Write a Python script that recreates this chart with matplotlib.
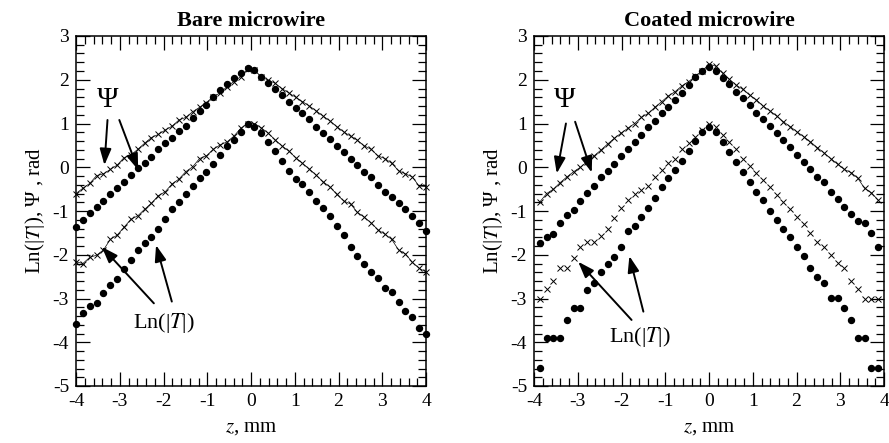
import matplotlib
matplotlib.use("Agg")
import matplotlib.pyplot as plt
import numpy as np
from matplotlib.ticker import MultipleLocator

plt.rcParams['font.family'] = ['Liberation Serif', 'DejaVu Serif']
plt.rcParams['mathtext.fontset'] = 'stix'
plt.rcParams['axes.unicode_minus'] = False

# z positions (mm) of the samples
z_bare = [-4.000, -3.843, -3.686, -3.529, -3.373, -3.216, -3.059, -2.902, -2.745, -2.588,
          -2.431, -2.275, -2.118, -1.961, -1.804, -1.647, -1.490, -1.333, -1.176, -1.020,
          -0.863, -0.706, -0.549, -0.392, -0.235, -0.078, 0.078, 0.235, 0.392, 0.549,
          0.706, 0.863, 1.020, 1.176, 1.333, 1.490, 1.647, 1.804, 1.961, 2.118,
          2.275, 2.431, 2.588, 2.745, 2.902, 3.059, 3.216, 3.373, 3.529, 3.686,
          3.843, 4.000]
z_coat = [-3.865, -3.710, -3.556, -3.401, -3.247, -3.092, -2.938, -2.783, -2.628, -2.474,
          -2.319, -2.165, -2.010, -1.856, -1.701, -1.546, -1.392, -1.237, -1.083, -0.928,
          -0.773, -0.619, -0.464, -0.310, -0.155, 0.000, 0.155, 0.310, 0.464, 0.619,
          0.773, 0.928, 1.083, 1.237, 1.392, 1.546, 1.701, 1.856, 2.010, 2.165,
          2.319, 2.474, 2.628, 2.783, 2.938, 3.092, 3.247, 3.401, 3.556, 3.710,
          3.865]

# Bare microwire
bare_psi_x = [-0.60, -0.48, -0.37, -0.19, -0.15, -0.05, 0.05, 0.22, 0.28, 0.41,
              0.55, 0.68, 0.75, 0.85, 0.94, 1.08, 1.14, 1.27, 1.37, 1.48,
              1.61, 1.70, 1.84, 1.96, 2.07, 2.24, 2.22, 2.07, 1.99, 1.92,
              1.80, 1.70, 1.60, 1.50, 1.40, 1.29, 1.17, 1.06, 0.93, 0.81,
              0.71, 0.62, 0.49, 0.41, 0.26, 0.20, 0.09, -0.08, -0.15, -0.22,
              -0.43, -0.44]
bare_psi_o = [-1.36, -1.21, -1.05, -0.90, -0.77, -0.62, -0.48, -0.33, -0.18, -0.02,
              0.09, 0.24, 0.42, 0.55, 0.68, 0.84, 0.94, 1.12, 1.29, 1.42,
              1.61, 1.77, 1.90, 2.03, 2.15, 2.26, 2.22, 2.06, 1.92, 1.78,
              1.65, 1.50, 1.35, 1.23, 1.10, 0.93, 0.78, 0.64, 0.49, 0.36,
              0.20, 0.05, -0.10, -0.22, -0.41, -0.56, -0.67, -0.82, -0.96, -1.11,
              -1.28, -1.45]
bare_lnt_x = [-2.16, -2.20, -2.06, -2.01, -1.89, -1.65, -1.55, -1.37, -1.19, -1.11,
              -0.96, -0.82, -0.65, -0.56, -0.38, -0.27, -0.10, 0.01, 0.20, 0.26,
              0.41, 0.51, 0.58, 0.71, 0.89, 1.00, 1.00, 0.90, 0.78, 0.63,
              0.49, 0.37, 0.22, 0.09, -0.04, -0.18, -0.33, -0.45, -0.62, -0.77,
              -0.84, -1.03, -1.14, -1.27, -1.43, -1.53, -1.65, -1.89, -1.98, -2.17,
              -2.31, -2.39]
bare_lnt_o = [-3.59, -3.34, -3.17, -3.11, -2.88, -2.70, -2.55, -2.32, -2.13, -1.90,
              -1.72, -1.59, -1.42, -1.19, -0.96, -0.79, -0.61, -0.43, -0.25, -0.10,
              0.07, 0.29, 0.49, 0.63, 0.81, 0.98, 0.93, 0.78, 0.58, 0.38,
              0.15, -0.08, -0.27, -0.38, -0.57, -0.76, -0.94, -1.11, -1.34, -1.54,
              -1.82, -2.02, -2.22, -2.40, -2.54, -2.75, -2.86, -3.07, -3.28, -3.43,
              -3.68, -3.80]

# Coated microwire
coat_psi_x = [-0.79, -0.60, -0.50, -0.35, -0.22, -0.10, 0.00, 0.13, 0.26, 0.39,
              0.53, 0.66, 0.78, 0.89, 1.00, 1.14, 1.23, 1.37, 1.50, 1.63,
              1.73, 1.86, 1.96, 2.08, 2.20, 2.36, 2.31, 2.15, 2.01, 1.88,
              1.78, 1.65, 1.54, 1.40, 1.29, 1.17, 1.04, 0.93, 0.81, 0.70,
              0.58, 0.45, 0.33, 0.20, 0.07, -0.05, -0.12, -0.25, -0.48, -0.58,
              -0.75]
coat_psi_o = [-1.72, -1.59, -1.53, -1.28, -1.09, -0.98, -0.78, -0.58, -0.43, -0.22,
              -0.08, 0.07, 0.26, 0.41, 0.58, 0.74, 0.93, 1.06, 1.23, 1.38,
              1.54, 1.70, 1.88, 2.06, 2.21, 2.30, 2.21, 2.05, 1.90, 1.73,
              1.58, 1.42, 1.25, 1.10, 0.94, 0.78, 0.62, 0.46, 0.28, 0.13,
              -0.05, -0.23, -0.34, -0.56, -0.73, -0.90, -1.07, -1.22, -1.28, -1.51,
              -1.82]
coat_lnt_x = [-3.00, -2.79, -2.59, -2.31, -2.31, -2.08, -1.83, -1.70, -1.70, -1.57,
              -1.40, -1.17, -0.92, -0.75, -0.61, -0.52, -0.43, -0.22, -0.06, 0.09,
              0.20, 0.41, 0.55, 0.70, 0.85, 1.00, 0.93, 0.74, 0.58, 0.41,
              0.20, 0.03, -0.12, -0.28, -0.46, -0.63, -0.80, -0.95, -1.14, -1.30,
              -1.51, -1.70, -1.82, -2.01, -2.18, -2.31, -2.59, -2.79, -3.00, -3.00,
              -3.00]
coat_lnt_o = [-4.58, -3.90, -3.90, -3.90, -3.49, -3.21, -3.21, -2.81, -2.65, -2.39,
              -2.20, -2.04, -1.83, -1.46, -1.34, -1.13, -0.92, -0.71, -0.46, -0.25,
              -0.06, 0.15, 0.38, 0.60, 0.81, 0.93, 0.81, 0.58, 0.36, 0.13,
              -0.10, -0.33, -0.56, -0.75, -0.99, -1.21, -1.42, -1.60, -1.82, -2.03,
              -2.30, -2.50, -2.65, -2.98, -2.98, -3.21, -3.49, -3.90, -3.90, -4.58,
              -4.58]

fig = plt.figure(figsize=(8.89, 4.43), dpi=100)
ax1 = fig.add_axes([76 / 889, 57 / 443, 350 / 889, 350 / 443])
ax2 = fig.add_axes([534 / 889, 57 / 443, 350 / 889, 350 / 443])

cross = dict(marker='x', color='black', markersize=4, markeredgewidth=0.7, linewidth=0.5, clip_on=False)
dot = dict(marker='o', color='black', markersize=4.3, linestyle='none', clip_on=False)

ax1.plot(z_bare, bare_psi_x, **cross)
ax1.plot(z_bare, bare_psi_o, **dot)
ax1.plot(z_bare, bare_lnt_x, **cross)
ax1.plot(z_bare, bare_lnt_o, **dot)

ax2.plot(z_coat, coat_psi_x, **cross)
ax2.plot(z_coat, coat_psi_o, **dot)
ax2.plot(z_coat, coat_lnt_x, marker='x', color='black', markersize=4, markeredgewidth=0.7,
         linestyle='none', clip_on=False)
ax2.plot(z_coat, coat_lnt_o, **dot)

arrow = dict(arrowstyle='-|>,head_length=0.7,head_width=0.25', color='black', lw=1.4,
             mutation_scale=14, shrinkA=0, shrinkB=0)

# annotations, bare
ax1.text(-3.27, 1.54, 'Ψ', fontsize=21, ha='center', va='center')
ax1.annotate('', xy=(-3.35, 0.05), xytext=(-3.28, 1.08), arrowprops=arrow)
ax1.annotate('', xy=(-2.58, -0.06), xytext=(-3.01, 1.08), arrowprops=arrow)
ax1.text(-2.0, -3.57, 'Ln(|$T$|)', fontsize=16, ha='center', va='center')
ax1.annotate('', xy=(-3.41, -1.82), xytext=(-2.22, -3.11), arrowprops=arrow)
ax1.annotate('', xy=(-2.17, -1.78), xytext=(-1.81, -3.07), arrowprops=arrow)

# annotations, coated
ax2.text(-3.29, 1.54, 'Ψ', fontsize=21, ha='center', va='center')
ax2.annotate('', xy=(-3.48, -0.14), xytext=(-3.27, 1.0), arrowprops=arrow)
ax2.annotate('', xy=(-2.68, -0.12), xytext=(-3.06, 1.04), arrowprops=arrow)
ax2.text(-1.58, -3.87, 'Ln(|$T$|)', fontsize=16, ha='center', va='center')
ax2.annotate('', xy=(-2.99, -2.16), xytext=(-1.77, -3.49), arrowprops=arrow)
ax2.annotate('', xy=(-1.82, -2.03), xytext=(-1.50, -3.30), arrowprops=arrow)

for ax, title in [(ax1, 'Bare microwire'), (ax2, 'Coated microwire')]:
    ax.set_xlim(-4, 4)
    ax.set_ylim(-5, 3)
    ax.xaxis.set_major_locator(MultipleLocator(1))
    ax.yaxis.set_major_locator(MultipleLocator(1))
    ax.xaxis.set_minor_locator(MultipleLocator(0.2))
    ax.yaxis.set_minor_locator(MultipleLocator(0.2))
    ax.tick_params(which='both', direction='in', top=True, right=True, labelsize=14, width=0.9)
    ax.tick_params(which='major', length=10)
    ax.tick_params(which='minor', length=5.5)
    ax.tick_params(axis='x', pad=5)
    ax.tick_params(axis='y', pad=5)
    for s in ax.spines.values():
        s.set_linewidth(1.1)
    ax.set_title(title, fontsize=16, fontweight='bold', pad=7)
    ax.set_xlabel('$z$, mm', fontsize=15, labelpad=6)
    ax.set_ylabel('Ln(|$T$|), Ψ , rad', fontsize=15, labelpad=4)

fig.savefig('out.png', dpi=100)
